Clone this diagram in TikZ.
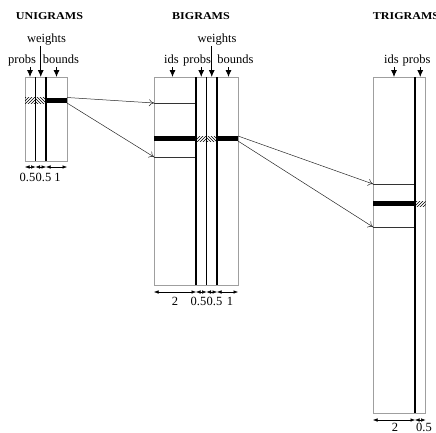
\documentclass[tikz,border=0pt]{standalone}
\usepackage{fontspec}
\usepackage{graphicx}
\setmainfont{Liberation Serif}
\usetikzlibrary{arrows.meta,patterns}
\newcommand{\ttl}[1]{\scalebox{1.15}[1]{#1}}
\begin{document}
\begin{tikzpicture}[x=1pt,y=-1pt,
  box/.style={draw=gray!75, line width=0.8pt, inner sep=0pt, outer sep=0pt, anchor=north west},
  divider/.style={draw=black, line width=1.2pt},
  sep/.style={draw=gray!40!black, line width=0.6pt},
  bar/.style={fill=black},
  hatchR/.style={pattern=north east lines},
  hatchL/.style={pattern=north west lines},
  title/.style={font=\bfseries\fontsize{10.5}{12}\selectfont, inner sep=0pt, anchor=base},
  lbl/.style={font=\fontsize{12.5}{14}\selectfont, inner sep=0pt, anchor=base},
  down/.style={-{Latex[length=7pt,width=6pt]}, line width=0.8pt},
  link/.style={-{To[length=5pt,width=7pt]}, draw=gray!30!black, line width=0.5pt},
  dim/.style={{Latex[length=4.5pt,width=3.5pt]}-{Latex[length=4.5pt,width=3.5pt]}, line width=0.5pt}
]
\useasboundingbox (0,0) rectangle (436,432);

% ---------- titles
\node[title] (tu) at (49.5,19.3) {\ttl{UNIGRAMS}};
\node[title] (tb) at (201,19.3) {\ttl{BIGRAMS}};
\node[title] (tt) at (406,19.3) {\ttl{TRIGRAMS}};

% ---------- UNIGRAMS
\node[box, minimum width=42pt, minimum height=84pt] (uni) at (25,77) {};
\fill[hatchR] (25,97.5) rectangle (35.5,103);
\fill[hatchL] (35.5,97.5) rectangle (46,103);
\fill[bar] (46,97.5) rectangle (67,103);
\draw[divider] (35.5,77) -- (35.5,161);
\draw[divider] (46,77) -- (46,161);
\coordinate (ubt) at (67,97.5);
\coordinate (ubb) at (67,103);

\node[lbl] (uw) at (46.5,42) {weights};
\node[lbl] (up) at (22,63.5) {probs};
\node[lbl] (ub) at (61,63.5) {bounds};
\coordinate (upa) at (30,67);  \coordinate (upe) at (30,77);
\coordinate (uwa) at (40.75,46); \coordinate (uwe) at (40.75,77);
\coordinate (uba) at (56.5,67); \coordinate (ube) at (56.5,77);
\draw[down] (upa) -- (upe);
\draw[down] (uwa) -- (uwe);
\draw[down] (uba) -- (ube);

\coordinate (ud0) at (25,167); \coordinate (ud1) at (35.5,167);
\coordinate (ud2) at (46,167); \coordinate (ud3) at (67,167);
\draw[dim] (ud0) -- (ud1);
\draw[dim] (ud1) -- (ud2);
\draw[dim] (ud2) -- (ud3);
\node[lbl, anchor=base east] (un1) at (35.5,181) {0.5};
\node[lbl, anchor=base west] (un2) at (35.5,181) {0.5};
\node[lbl] (un3) at (57.5,181) {1};

% ---------- BIGRAMS
\node[box, minimum width=84pt, minimum height=208pt] (bi) at (154,77) {};
\draw[sep] (154,103) -- (196,103);
\draw[sep] (154,157) -- (196,157);
\coordinate (bl1) at (154,103);
\coordinate (bl2) at (154,157);
\fill[bar] (154,136) rectangle (196,141);
\fill[hatchR] (196,136) rectangle (206.5,141);
\fill[hatchL] (206.5,136) rectangle (217,141);
\fill[bar] (217,136) rectangle (238,141);
\draw[divider] (196,77) -- (196,285);
\draw[divider] (206.5,77) -- (206.5,285);
\draw[divider] (217,77) -- (217,285);
\coordinate (bbt) at (238,136);
\coordinate (bbb) at (238,141);

\node[lbl] (bw) at (217,42) {weights};
\node[lbl] (bi1) at (171.5,63.5) {ids};
\node[lbl] (bp) at (197,63.5) {probs};
\node[lbl] (bb) at (235.5,63.5) {bounds};
\coordinate (bia) at (172.5,67); \coordinate (bie) at (172.5,77);
\coordinate (bpa) at (201.25,67); \coordinate (bpe) at (201.25,77);
\coordinate (bwa) at (211.75,46); \coordinate (bwe) at (211.75,77);
\coordinate (bba) at (228.5,67); \coordinate (bbe) at (228.5,77);
\draw[down] (bia) -- (bie);
\draw[down] (bpa) -- (bpe);
\draw[down] (bwa) -- (bwe);
\draw[down] (bba) -- (bbe);

\coordinate (bd0) at (154,292); \coordinate (bd1) at (196,292);
\coordinate (bd2) at (206.5,292); \coordinate (bd3) at (217,292);
\coordinate (bd4) at (238,292);
\draw[dim] (bd0) -- (bd1);
\draw[dim] (bd1) -- (bd2);
\draw[dim] (bd2) -- (bd3);
\draw[dim] (bd3) -- (bd4);
\node[lbl] (bn1) at (175,305.5) {2};
\node[lbl, anchor=base east] (bn2) at (206.5,305.5) {0.5};
\node[lbl, anchor=base west] (bn3) at (206.5,305.5) {0.5};
\node[lbl] (bn4) at (230,305.5) {1};

% ---------- TRIGRAMS
\node[box, minimum width=52.5pt, minimum height=336pt] (tri) at (373,77) {};
\draw[sep] (373,184) -- (415,184);
\draw[sep] (373,227) -- (415,227);
\coordinate (tl1) at (373,184);
\coordinate (tl2) at (373,227);
\fill[bar] (373,201) rectangle (415,206);
\fill[hatchR] (415,201) rectangle (425.5,206);
\draw[divider] (415,77) -- (415,413);

\node[lbl] (ti) at (391.5,63.5) {ids};
\node[lbl] (tp) at (416.5,63.5) {probs};
\coordinate (tia) at (394,67); \coordinate (tie) at (394,77);
\coordinate (tpa) at (420.25,67); \coordinate (tpe) at (420.25,77);
\draw[down] (tia) -- (tie);
\draw[down] (tpa) -- (tpe);

\coordinate (td0) at (373,420); \coordinate (td1) at (415,420);
\coordinate (td2) at (425.5,420);
\draw[dim] (td0) -- (td1);
\draw[dim] (td1) -- (td2);
\node[lbl] (tn1) at (395,431) {2};
\node[lbl, anchor=base west] (tn2) at (416,431) {0.5};

% ---------- links
\draw[link] (ubt) -- (bl1);
\draw[link] (ubb) -- (bl2);
\draw[link] (bbt) -- (tl1);
\draw[link] (bbb) -- (tl2);
\end{tikzpicture}
\end{document}
